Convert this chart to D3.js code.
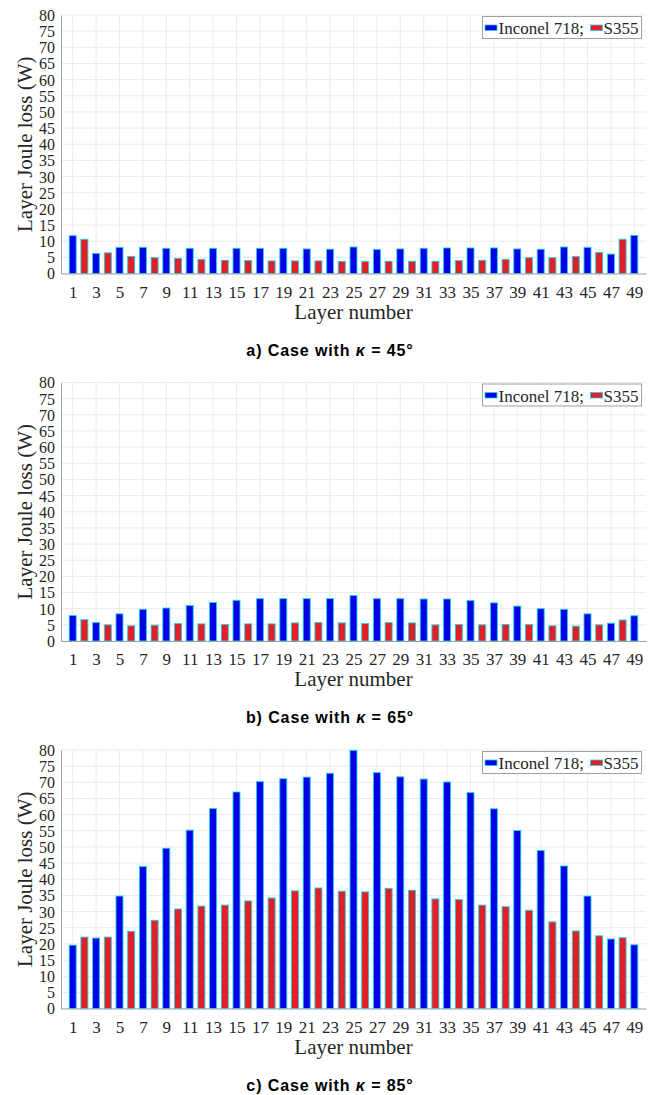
<!DOCTYPE html>
<html>
<head>
<meta charset="utf-8">
<script src="https://cdn.jsdelivr.net/npm/d3@7"></script>
<style>
  body { margin: 0; background: #fff; }
  svg { display: block; }
  .serif text { font-family: 'Liberation Serif', 'Times New Roman', serif; }
</style>
</head>
<body>
<svg id="chart"></svg>
<script>
const width = 658;
const height = 1095;

// layer numbers: odd layers are Inconel 718, even layers are S355
const inconelLayers = [1, 3, 5, 7, 9, 11, 13, 15, 17, 19, 21, 23, 25, 27, 29, 31, 33, 35, 37, 39, 41, 43, 45, 47, 49];
const s355Layers = [2, 4, 6, 8, 10, 12, 14, 16, 18, 20, 22, 24, 26, 28, 30, 32, 34, 36, 38, 40, 42, 44, 46, 48];
const xTicks = [1, 3, 5, 7, 9, 11, 13, 15, 17, 19, 21, 23, 25, 27, 29, 31, 33, 35, 37, 39, 41, 43, 45, 47, 49];
const yTicks = [0, 5, 10, 15, 20, 25, 30, 35, 40, 45, 50, 55, 60, 65, 70, 75, 80];

// case kappa = 45
const inconel45 = [11.7, 6.2, 8.1, 8.1, 7.8, 7.8, 7.8, 7.8, 7.8, 7.8, 7.6, 7.5, 8.2, 7.4, 7.6, 7.8, 7.9, 7.9, 7.9, 7.6, 7.5, 8.2, 8.1, 6.0, 11.8];
const s355_45 = [10.6, 6.4, 5.3, 4.9, 4.7, 4.4, 4.1, 4.0, 3.9, 3.9, 3.9, 3.7, 3.7, 3.8, 3.8, 3.8, 4.0, 4.1, 4.4, 4.9, 4.9, 5.3, 6.5, 10.6];

// case kappa = 65
const inconel65 = [7.9, 5.7, 8.4, 9.8, 10.2, 11.0, 11.9, 12.6, 13.1, 13.1, 13.1, 13.1, 14.1, 13.1, 13.1, 13.0, 13.0, 12.5, 11.8, 10.8, 10.0, 9.8, 8.4, 5.5, 7.8];
const s355_65 = [6.6, 5.0, 4.7, 4.9, 5.4, 5.3, 5.1, 5.3, 5.3, 5.6, 5.7, 5.6, 5.4, 5.7, 5.6, 5.0, 5.1, 5.0, 5.1, 5.1, 4.7, 4.6, 5.0, 6.5];

// case kappa = 85
const inconel85 = [19.6, 21.8, 34.8, 43.9, 49.6, 55.2, 61.9, 67.0, 70.2, 71.1, 71.6, 72.8, 79.9, 73.0, 71.7, 71.0, 70.1, 66.8, 61.8, 55.1, 48.9, 44.1, 34.8, 21.5, 19.7];
const s355_85 = [22.1, 22.1, 23.9, 27.3, 30.8, 31.7, 32.0, 33.3, 34.2, 36.4, 37.3, 36.3, 36.1, 37.2, 36.6, 33.9, 33.7, 32.0, 31.5, 30.4, 26.8, 24.0, 22.5, 21.9];

const panels = [
    { top: 15, label: "a", angle: "45", inconel: inconel45, s355: s355_45 },
    { top: 382.5, label: "b", angle: "65", inconel: inconel65, s355: s355_65 },
    { top: 750, label: "c", angle: "85", inconel: inconel85, s355: s355_85 }
];

const left = 61, right = 646, plotH = 258.5;
const blue = "#0000e6", red = "#e21f26", edge = "#1ed2e6";
const serif = "'Liberation Serif', 'Times New Roman', serif";
const textColor = "#262626";

const svg = d3.select("#chart")
    .attr("width", width)
    .attr("height", height);

const x = d3.scaleLinear().domain([0, 50]).range([left, right]);
const barW = 7;

function drawPanel(p) {
    const y = d3.scaleLinear().domain([0, 80]).range([p.top + plotH, p.top]);
    const g = svg.append("g");

    // grid
    g.append("g").selectAll("line").data(yTicks).enter()
        .append("line")
        .attr("x1", left).attr("x2", right)
        .attr("y1", d => y(d)).attr("y2", d => y(d))
        .attr("stroke", "#ebebeb").attr("stroke-width", 1);
    g.append("g").selectAll("line").data(xTicks).enter()
        .append("line")
        .attr("x1", d => x(d)).attr("x2", d => x(d))
        .attr("y1", y(0)).attr("y2", y(80))
        .attr("stroke", "#ebebeb").attr("stroke-width", 1);

    // bars
    g.append("g").selectAll("rect").data(p.inconel).enter()
        .append("rect")
        .attr("x", (d, i) => x(inconelLayers[i]) - barW / 2)
        .attr("y", d => y(d))
        .attr("width", barW)
        .attr("height", d => y(0) - y(d))
        .attr("fill", blue)
        .attr("stroke", edge)
        .attr("stroke-width", 0.9);
    g.append("g").selectAll("rect").data(p.s355).enter()
        .append("rect")
        .attr("x", (d, i) => x(s355Layers[i]) - barW / 2)
        .attr("y", d => y(d))
        .attr("width", barW)
        .attr("height", d => y(0) - y(d))
        .attr("fill", red)
        .attr("stroke", edge)
        .attr("stroke-width", 0.9);

    // axes
    const yAxis = d3.axisLeft(y).tickValues(yTicks).tickSize(0).tickPadding(6);
    const xAxis = d3.axisBottom(x).tickValues(xTicks).tickSize(0).tickPadding(12);

    const ya = g.append("g").attr("class", "serif").attr("transform", "translate(" + left + ",0)").call(yAxis);
    const xa = g.append("g").attr("class", "serif").attr("transform", "translate(0," + y(0) + ")").call(xAxis);
    [ya, xa].forEach(a => {
        a.select(".domain").attr("stroke", "#a0a0a0").attr("stroke-width", 1);
        a.selectAll("text")
            .style("font-family", serif)
            .attr("fill", textColor);
    });
    ya.selectAll("text").style("font-size", "16px").attr("dy", "0.34em");
    xa.selectAll("text").style("font-size", "17px").attr("dy", "0.71em");

    // axis labels
    g.append("text")
        .attr("transform", "translate(25," + (p.top + plotH / 2) + ") rotate(-90)")
        .attr("text-anchor", "middle")
        .attr("dy", "0.35em")
        .attr("font-family", serif)
        .attr("font-size", 21)
        .attr("fill", textColor)
        .text("Layer Joule loss (W)");

    g.append("text")
        .attr("x", (left + right) / 2)
        .attr("y", p.top + plotH + 45)
        .attr("text-anchor", "middle")
        .attr("font-family", serif)
        .attr("font-size", 21)
        .attr("fill", textColor)
        .text("Layer number");

    // legend
    const lg = g.append("g").attr("transform", "translate(" + 482.5 + "," + (p.top + 1.5) + ")");
    lg.append("rect")
        .attr("x", 0).attr("y", 0)
        .attr("width", 159).attr("height", 22)
        .attr("fill", "#fff")
        .attr("stroke", "#a0a0a0").attr("stroke-width", 1);
    lg.append("rect")
        .attr("x", 2.5).attr("y", 8.5).attr("width", 12).attr("height", 5.5)
        .attr("fill", blue).attr("stroke", edge).attr("stroke-width", 0.8);
    lg.append("text")
        .attr("x", 16).attr("y", 17.5)
        .attr("font-family", serif).attr("font-size", 17).attr("fill", textColor)
        .text("Inconel 718;");
    lg.append("rect")
        .attr("x", 108).attr("y", 8.5).attr("width", 12).attr("height", 5.5)
        .attr("fill", red).attr("stroke", edge).attr("stroke-width", 0.8);
    lg.append("text")
        .attr("x", 121).attr("y", 17.5)
        .attr("font-family", serif).attr("font-size", 17).attr("fill", textColor)
        .text("S355");

    // caption
    const cap = g.append("text")
        .attr("x", 330)
        .attr("y", p.top + plotH + 82)
        .attr("text-anchor", "middle")
        .attr("font-family", "'Liberation Sans', Arial, sans-serif")
        .attr("font-weight", "bold")
        .attr("font-size", 16)
        .attr("letter-spacing", 0.9)
        .attr("fill", "#000");
    cap.append("tspan").text(p.label + ") Case with ");
    cap.append("tspan").attr("font-style", "italic").text("\u03BA");
    cap.append("tspan").text(" = " + p.angle + "\u00B0");
}

panels.forEach(drawPanel);
</script>
</body>
</html>
